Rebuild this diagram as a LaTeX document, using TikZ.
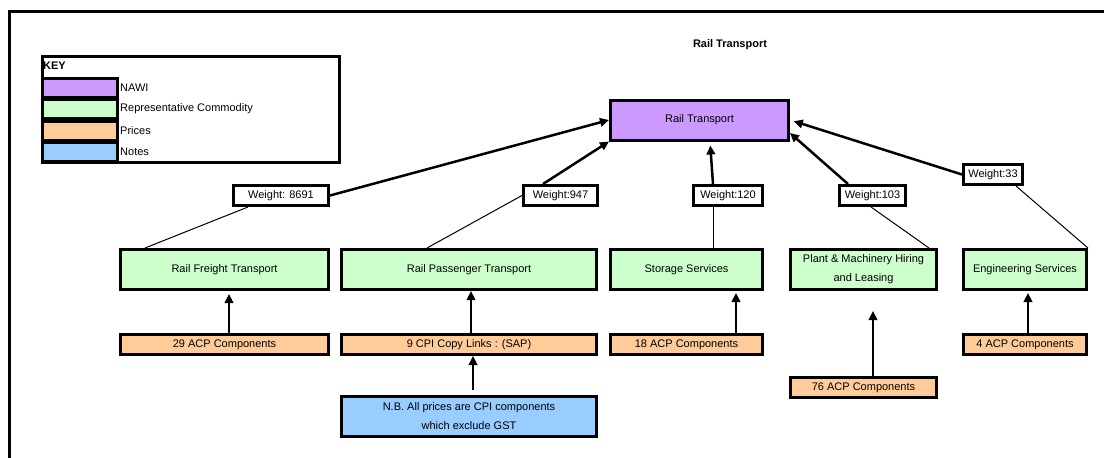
\documentclass[tikz,border=0pt]{standalone}
\usepackage{fontspec}
\setmainfont{Liberation Sans}
\usetikzlibrary{positioning,arrows.meta}
\definecolor{nawifill}{HTML}{CC99FF}
\definecolor{commfill}{HTML}{CCFFCC}
\definecolor{pricefill}{HTML}{FFCC99}
\definecolor{notefill}{HTML}{99CCFF}

\begin{document}
\begin{tikzpicture}[x=1pt,y=-1pt,
font=\fontsize{11}{19}\selectfont,
box/.style={draw=black, line width=3pt, inner sep=0pt, align=center},
nawi/.style={box, fill=nawifill, minimum height=40pt},
commodity/.style={box, fill=commfill, minimum height=40pt},
prices/.style={box, fill=pricefill, minimum height=20pt},
notes/.style={box, fill=notefill, minimum height=40pt},
weight/.style={box, fill=white, minimum height=20pt},
swatch/.style={box, minimum width=75pt, minimum height=19pt},
key_label/.style={inner sep=1pt, anchor=west},
feed/.style={-{Triangle[length=9pt,width=8.5pt]}, line width=2.5pt},
link/.style={line width=1pt}
]
\useasboundingbox (0,0) rectangle (1104,458);
\clip (0,0) rectangle (1104,458);

% frame
\draw[line width=2.7pt] (9.7,470) -- (9.7,11.3) -- (1120,11.3);

% key
\draw[line width=3pt] (42.5,56.5) rectangle (339.5,162.5);
\node[key_label, font=\fontsize{11}{13}\bfseries](key) at (42,66){KEY};
\node[swatch, fill=nawifill](k_nawi) at (80,87.5){};
\node[swatch, fill=commfill](k_comm) at (80,109){};
\node[swatch, fill=pricefill](k_price) at (80,130.5){};
\node[swatch, fill=notefill](k_note) at (80,152){};
\node[key_label](l_nawi)[right=0pt of k_nawi]{NAWI};
\node[key_label](l_comm)[right=0pt of k_comm]{Representative Commodity};
\node[key_label](l_price)[right=0pt of k_price]{Prices};
\node[key_label](l_note)[right=0pt of k_note]{Notes};

% title and top level
\node[font=\fontsize{11}{13}\bfseries](title) at (730,45){Rail Transport};
\node[nawi, minimum width=178pt](rail_tr) at (699.5,120){Rail Transport};

% commodities
\node[commodity, minimum width=208pt](freight) at (224.5,269.5){Rail Freight Transport};
\node[commodity, minimum width=255pt](passenger) at (469,269.5){Rail Passenger Transport};
\node[commodity, minimum width=152pt](storage) at (686.5,269.5){Storage Services};
\node[commodity, minimum width=146pt](plant) at (863.5,269.5){Plant \& Machinery Hiring\\and Leasing};
\node[commodity, minimum width=123pt](engineering) at (1025,269.5){Engineering Services};

% weights
\node[weight, minimum width=95pt](w_freight) at (281,195.5){Weight: 8691};
\node[weight, minimum width=74pt](w_passenger) at (560.5,195.5){Weight:947};
\node[weight, minimum width=69pt](w_storage) at (728,195.5){Weight:120};
\node[weight, minimum width=66pt](w_plant) at (872.5,195.5){Weight:103};
\node[weight, minimum width=59pt](w_engineering) at (993,174.5){Weight:33};

% prices
\node[prices, minimum width=208pt](p_freight) at (224.5,344.5){29 ACP Components};
\node[prices, minimum width=255pt](p_passenger) at (469,344.5){9 CPI Copy Links : (SAP)};
\node[prices, minimum width=152pt](p_storage) at (686.5,344.5){18 ACP Components};
\node[prices, minimum width=146pt](p_plant) at (863.5,387.5){76 ACP Components};
\node[prices, minimum width=123pt](p_engineering) at (1025,344.5){4 ACP Components};

% notes
\node[notes, minimum width=255pt](note)[below=39pt of p_passenger]{N.B. All prices are CPI components\\which exclude GST};

% commodity to weight
\draw[link] ([xshift=26pt]freight.north west) -- ([xshift=16pt]w_freight.south west);
\draw[link] ([xshift=87pt]passenger.north west) -- (w_passenger.west);
\draw[link] ([xshift=104pt]storage.north west) -- ([xshift=21pt]w_storage.south west);
\draw[link] ([xshift=-9pt]plant.north east) -- ([xshift=33pt]w_plant.south west);
\draw[link] (engineering.north east) -- ([xshift=-8pt]w_engineering.south east);

% weight to top
\draw[feed] (w_freight.east) -- (rail_tr.west);
\draw[feed] ([xshift=21pt]w_passenger.north west) -- (rail_tr.south west);
\draw[feed, shorten >=4pt] ([xshift=21pt]w_storage.north west) -- ([xshift=101pt]rail_tr.south west);
\draw[feed] ([xshift=10pt]w_plant.north west) -- ([yshift=-13pt]rail_tr.east);
\draw[feed, shorten >=4pt] (w_engineering.west) -- (rail_tr.east);

% prices to commodity
\draw[feed, shorten >=3pt] ([xshift=110pt]p_freight.north west) -- ([xshift=110pt]freight.south west);
\draw[feed] ([xshift=131pt]p_passenger.north west) -- ([xshift=131pt]passenger.south west);
\draw[feed, shorten >=2pt] ([xshift=127pt]p_storage.north west) -- ([xshift=127pt]storage.south west);
\draw[feed, shorten >=20pt] ([xshift=84pt]p_plant.north west) -- ([xshift=84pt]plant.south west);
\draw[feed, shorten >=2pt] ([xshift=66pt]p_engineering.north west) -- ([xshift=66pt]engineering.south west);
\draw[feed, shorten <=5pt] ([xshift=133pt]note.north west) -- ([xshift=133pt]p_passenger.south west);
\end{tikzpicture}
\end{document}
